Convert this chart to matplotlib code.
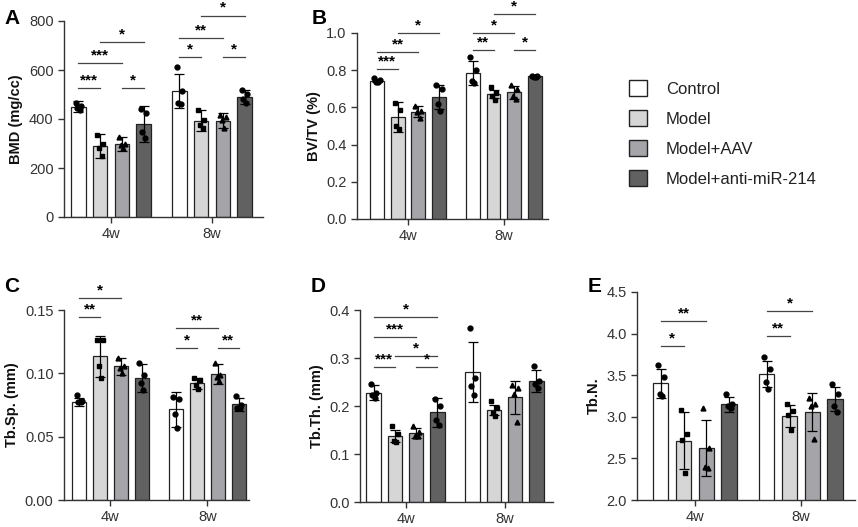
import matplotlib
matplotlib.use("Agg")
import matplotlib.pyplot as plt
import numpy as np
from matplotlib.patches import Patch

plt.rcParams['font.family'] = ['Liberation Sans', 'DejaVu Sans']

# ---------------- data ----------------
groups = ["Control", "Model", "Model+AAV", "Model+anti-miR-214"]
times = ["4w", "8w"]

# A: BMD (mg/cc)
bmd_mean = [[451, 289, 299, 380], [515, 393, 393, 490]]
bmd_sd = [[22, 48, 28, 75], [70, 43, 31, 27]]
bmd_pts = [[[467, 454, 444, 437], [336, 299, 281, 250], [326, 300, 292, 280], [440, 424, 345, 322]],
           [[614, 516, 467, 462], [437, 395, 375, 365], [417, 410, 394, 363], [519, 503, 481, 465]]]
bmd_sig = [(0, 0, 1, 527, "***"), (0, 0, 2, 628, "***"), (0, 2, 3, 527, "*"), (0, 1, 3, 715, "*"),
           (1, 0, 1, 652, "*"), (1, 0, 2, 730, "**"), (1, 2, 3, 652, "*"), (1, 1, 3, 822, "*")]

# B: BV/TV (%)
bvtv_mean = [[0.744, 0.548, 0.577, 0.654], [0.785, 0.672, 0.681, 0.767]]
bvtv_sd = [[0.010, 0.080, 0.030, 0.065], [0.063, 0.020, 0.035, 0.004]]
bvtv_pts = [[[0.756, 0.748, 0.738, 0.734], [0.625, 0.585, 0.500, 0.485], [0.610, 0.580, 0.575, 0.545], [0.720, 0.700, 0.620, 0.580]],
            [[0.870, 0.800, 0.740, 0.730], [0.710, 0.680, 0.660, 0.640], [0.720, 0.700, 0.660, 0.645], [0.770, 0.768, 0.765, 0.766]]]
bvtv_sig = [(0, 0, 1, 0.806, "***"), (0, 0, 2, 0.898, "**"), (0, 1, 3, 1.0, "*"),
            (1, 0, 1, 0.907, "**"), (1, 0, 2, 1.0, "*"), (1, 2, 3, 0.907, "*"), (1, 1, 3, 1.10, "*")]

# C: Tb.Sp. (mm)
tbsp_mean = [[0.0775, 0.1135, 0.1055, 0.0965], [0.0715, 0.092, 0.0995, 0.0755]]
tbsp_sd = [[0.003, 0.016, 0.0066, 0.011], [0.0135, 0.004, 0.0079, 0.005]]
tbsp_pts = [[[0.083, 0.078, 0.077, 0.077], [0.126, 0.126, 0.106, 0.096], [0.112, 0.106, 0.104, 0.100], [0.108, 0.099, 0.092, 0.087]],
            [[0.081, 0.080, 0.068, 0.057], [0.096, 0.095, 0.091, 0.088], [0.108, 0.099, 0.097, 0.094], [0.082, 0.075, 0.073, 0.073]]]
tbsp_sig = [(0, 0, 1, 0.1442, "**"), (0, 0, 2, 0.1597, "*"),
            (1, 0, 1, 0.120, "*"), (1, 0, 2, 0.136, "**"), (1, 2, 3, 0.120, "**")]

# D: Tb.Th. (mm)
tbth_mean = [[0.228, 0.138, 0.144, 0.1865], [0.271, 0.192, 0.218, 0.252]]
tbth_sd = [[0.015, 0.013, 0.010, 0.030], [0.063, 0.010, 0.035, 0.022]]
tbth_pts = [[[0.245, 0.228, 0.222, 0.217], [0.158, 0.142, 0.128, 0.124], [0.158, 0.145, 0.138, 0.137], [0.215, 0.200, 0.170, 0.160]],
            [[0.362, 0.258, 0.242, 0.223], [0.210, 0.195, 0.185, 0.180], [0.244, 0.237, 0.225, 0.166], [0.283, 0.252, 0.245, 0.238]]]
tbth_sig = [(0, 0, 1, 0.281, "***"), (0, 2, 3, 0.281, "*"), (0, 1, 3, 0.304, "*"),
            (0, 0, 2, 0.344, "***"), (0, 0, 3, 0.386, "*")]

# E: Tb.N.
tbn_mean = [[3.404, 2.714, 2.622, 3.152], [3.514, 3.010, 3.060, 3.214]]
tbn_sd = [[0.175, 0.345, 0.335, 0.090], [0.160, 0.130, 0.230, 0.140]]
tbn_pts = [[[3.62, 3.48, 3.27, 3.25], [3.08, 2.79, 2.72, 2.33], [3.10, 2.62, 2.40, 2.38], [3.28, 3.15, 3.13, 3.10]],
           [[3.72, 3.58, 3.42, 3.33], [3.15, 3.07, 3.02, 2.84], [3.23, 3.15, 3.13, 2.73], [3.40, 3.28, 3.13, 3.06]]]
tbn_sig = [(0, 0, 1, 3.854, "*"), (0, 0, 2, 4.155, "**"),
           (1, 0, 1, 3.974, "**"), (1, 0, 2, 4.275, "*")]

# ---------------- style ----------------
colors = ["#ffffff", "#d6d6d6", "#a4a4a9", "#616161"]
markers = ["o", "s", "^", "o"]
jitter = [-0.028, 0.028, -0.012, 0.014]
step = 0.215
width = 0.145
W, H = 858, 527
txt_col = "#333333"

fig = plt.figure(figsize=(W / 100, H / 100), dpi=100)


def px_axes(left, right, top, bottom):
    return fig.add_axes([left / W, 1 - bottom / H, (right - left) / W, (bottom - top) / H])


def draw_panel(ax, mean, sd, pts, sig, ylim, yticks, yfmt, ylabel, xlim):
    for t in range(2):
        for g in range(4):
            x = t + (g - 1.5) * step
            ax.bar(x, mean[t][g], width=width, color=colors[g], edgecolor="#222222",
                   linewidth=0.9, zorder=2)
            ax.errorbar(x, mean[t][g], yerr=sd[t][g], color="black", capsize=3.5,
                        elinewidth=0.9, capthick=0.9, zorder=3)
            ax.plot([x + j for j in jitter], pts[t][g], linestyle="none", marker=markers[g],
                    color="black", markersize=3.5, zorder=4, clip_on=False)
    for t, i, j, y, lab in sig:
        x1 = t + (i - 1.5) * step
        x2 = t + (j - 1.5) * step
        ax.plot([x1, x2], [y, y], color="#444444", linewidth=0.9, clip_on=False)
        ax.annotate(lab, xy=((x1 + x2) / 2, y), xytext=(0, 0.5), textcoords="offset points",
                    ha="center", va="bottom", fontsize=11, fontweight="bold",
                    color="black", annotation_clip=False)
    ax.set_xlim(*xlim)
    ax.set_ylim(*ylim)
    ax.set_yticks(yticks)
    ax.set_yticklabels([yfmt.format(v) for v in yticks])
    ax.set_xticks([0, 1])
    ax.set_xticklabels(times)
    ax.spines["top"].set_visible(False)
    ax.spines["right"].set_visible(False)
    for s in ["left", "bottom"]:
        ax.spines[s].set_linewidth(1.0)
        ax.spines[s].set_color("#333333")
    ax.tick_params(axis="both", labelsize=10.5, colors="#333333", labelcolor=txt_col,
                   length=4, width=1.0, direction="out")
    ax.set_ylabel(ylabel, fontsize=10.5, fontweight="bold", color="#111111", labelpad=4)


axA = px_axes(64, 263, 21, 217)
draw_panel(axA, bmd_mean, bmd_sd, bmd_pts, bmd_sig, (0, 800), [0, 200, 400, 600, 800],
           "{:.0f}", "BMD (mg/cc)", (-0.465, 1.505))
axB = px_axes(357, 548, 33, 219)
draw_panel(axB, bvtv_mean, bvtv_sd, bvtv_pts, bvtv_sig, (0, 1.0), [0, 0.2, 0.4, 0.6, 0.8, 1.0],
           "{:.1f}", "BV/TV (%)", (-0.53, 1.46))
axC = px_axes(64, 249, 310, 500)
draw_panel(axC, tbsp_mean, tbsp_sd, tbsp_pts, tbsp_sig, (0, 0.15), [0, 0.05, 0.10, 0.15],
           "{:.2f}", "Tb.Sp. (mm)", (-0.48, 1.43))
axD = px_axes(360, 553, 310, 502)
draw_panel(axD, tbth_mean, tbth_sd, tbth_pts, tbth_sig, (0, 0.4), [0, 0.1, 0.2, 0.3, 0.4],
           "{:.1f}", "Tb.Th. (mm)", (-0.46, 1.49))
axE = px_axes(637, 855, 292, 500)
draw_panel(axE, tbn_mean, tbn_sd, tbn_pts, tbn_sig, (2.0, 4.5), [2.0, 2.5, 3.0, 3.5, 4.0, 4.5],
           "{:.1f}", "Tb.N.", (-0.547, 1.51))

# panel letters
for lab, x, y in [("A", 4, 18), ("B", 312, 18), ("C", 4, 287), ("D", 311, 287), ("E", 588, 287)]:
    fig.text(x / W, 1 - y / H, lab, fontsize=15, fontweight="bold", va="center", ha="left")

# legend
handles = [Patch(facecolor=c, edgecolor="#222222", linewidth=1.0) for c in colors]
fig.legend(handles, groups, loc="upper left", bbox_to_anchor=(629 / W, 1 - 80 / H),
           frameon=False, fontsize=12, handlelength=1.1, handleheight=1.1,
           handletextpad=1.1, labelspacing=0.8, borderpad=0, borderaxespad=0,
           labelcolor="#222222")

fig.savefig("out.png", dpi=100)
